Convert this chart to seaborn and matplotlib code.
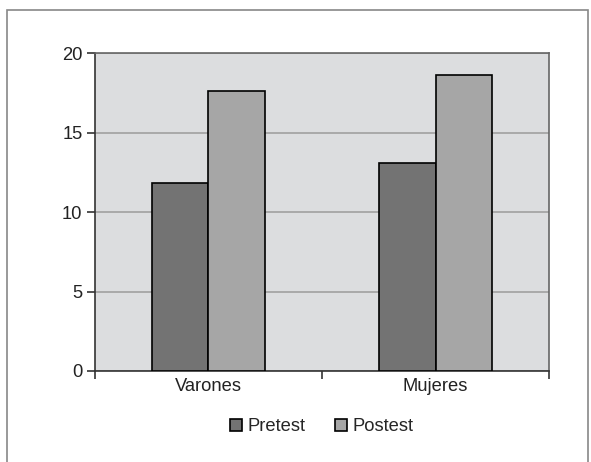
import pandas as pd
import seaborn as sns
import matplotlib.pyplot as plt
from matplotlib.patches import Rectangle

GROUPS = ["Varones", "Mujeres"]
PRETEST = [11.8, 13.1]
POSTEST = [17.6, 18.6]
SERIES = ["Pretest", "Postest"]
COLORS = ["#737373", "#a6a6a6"]

df = pd.DataFrame({
    "grupo": GROUPS * 2,
    "serie": [SERIES[0]] * len(GROUPS) + [SERIES[1]] * len(GROUPS),
    "valor": PRETEST + POSTEST,
})

sns.set_style("white")
plt.rcParams["font.family"] = ["Liberation Sans", "DejaVu Sans"]

FS = 13.2

fig = plt.figure(figsize=(5.91, 4.62), dpi=100)
ax = fig.add_axes([0.1607, 0.197, 0.929 - 0.1607, 0.885 - 0.197])
ax.set_facecolor("#dcdddf")

sns.barplot(data=df, x="grupo", y="valor", hue="serie", palette=COLORS,
            width=0.5, edgecolor="black", linewidth=1.2, saturation=1,
            ax=ax, zorder=3)

ax.set_xlim(-0.5, 1.5)
ax.set_ylim(0, 20)
ax.set_yticks([0, 5, 10, 15, 20])
ax.yaxis.grid(True, color="#a0a0a0", linewidth=1.2, zorder=1)
ax.set_axisbelow(True)
ax.set_xlabel("")
ax.set_ylabel("")

# category ticks sit on the boundaries, labels centred
ax.set_xticks([-0.5, 0.5, 1.5])
ax.set_xticklabels([])
ax.set_xticks([0, 1], minor=True)
ax.set_xticklabels(GROUPS, minor=True, fontsize=FS, color="#222222")
ax.tick_params(axis="x", which="minor", length=0, pad=5)
ax.tick_params(axis="x", which="major", length=6, width=1.2, color="#333333", direction="out")
ax.tick_params(axis="y", length=6, width=1.2, color="#333333", labelsize=FS,
               labelcolor="#222222", pad=3, direction="out")
ax.tick_params(bottom=True, left=True)

for side in ["left", "bottom"]:
    ax.spines[side].set_color("#333333")
    ax.spines[side].set_linewidth(1.2)
for side in ["top", "right"]:
    ax.spines[side].set_color("#666666")
    ax.spines[side].set_linewidth(1.2)

leg = ax.legend(loc="center", bbox_to_anchor=(0.5, -0.175), ncol=2, frameon=False,
                fontsize=FS, handlelength=0.65, handleheight=0.65,
                handletextpad=0.3, columnspacing=1.6)
for h in leg.legend_handles:
    h.set_edgecolor("black")
    h.set_linewidth(1.2)

fig.patches.append(Rectangle((0.0118, -0.02), 0.995 - 0.0118, 0.978 + 0.02,
                             transform=fig.transFigure, fill=False,
                             edgecolor="#888888", linewidth=1.2))

fig.savefig("out.png", dpi=100)
